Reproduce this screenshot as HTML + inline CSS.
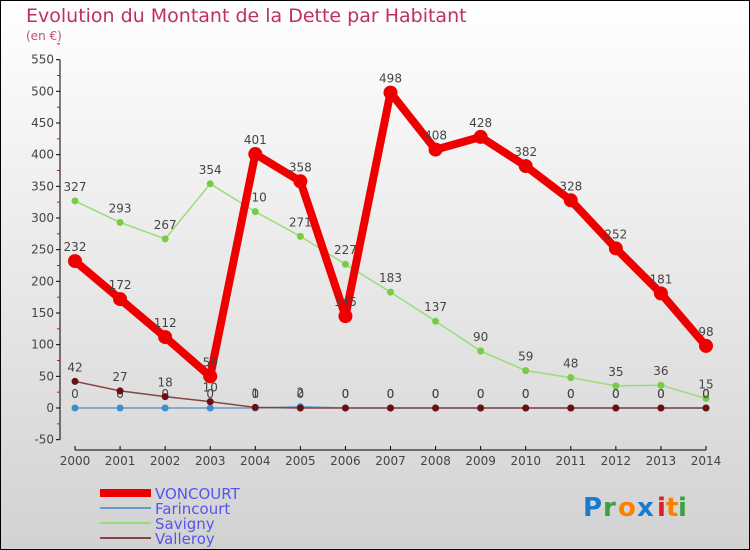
<!DOCTYPE html>
<html><head><meta charset="utf-8"><style>
body{margin:0}
#c{width:750px;height:550px;position:relative;overflow:hidden;font-family:"DejaVu Sans","Liberation Sans",sans-serif;}
svg text{font-family:"DejaVu Sans","Liberation Sans",sans-serif;}
</style></head><body>
<div id="c">
<svg id="s" width="750" height="550" xmlns="http://www.w3.org/2000/svg">
<defs><linearGradient id="bg" x1="0" y1="0" x2="0" y2="1"><stop offset="0" stop-color="#ffffff"/><stop offset="1" stop-color="#d2d2d2"/></linearGradient></defs>
<rect x="0.5" y="0.5" width="749" height="549" fill="url(#bg)" stroke="#000"/>
<text x="26" y="22" font-size="19" fill="#c0305a">Evolution du Montant de la Dette par Habitant</text>
<text x="26" y="40" font-size="12" fill="#c0507a">(en €)</text>
<g id="axes"></g><g id="series"></g><g id="legend"></g>
<g font-size="26" font-weight="bold">
<text x="583" y="516" fill="#1a7ad0">P</text><text x="603" y="516" fill="#3aa040">r</text><text x="618" y="516" fill="#ff8000">o</text><text x="637" y="516" fill="#1a7ad0">x</text><text x="657" y="516" fill="#e02020">i</text><text x="666" y="516" fill="#ff8000">t</text><text x="678" y="516" fill="#3aa040">i</text>
</g>
</svg>
</div>
<script>
const years=[2000,2001,2002,2003,2004,2005,2006,2007,2008,2009,2010,2011,2012,2013,2014];
const voncourt=[232,172,112,50,401,358,145,498,408,428,382,328,252,181,98];
const farincourt=[0,0,0,0,0,2,0,0,0,0,0,0,0,0,0];
const savigny=[327,293,267,354,310,271,227,183,137,90,59,48,35,36,15];
const valleroy=[42,27,18,10,1,0,0,0,0,0,0,0,0,0,0];
const yTicks=[-50,0,50,100,150,200,250,300,350,400,450,500,550];
const NS="http://www.w3.org/2000/svg";
const X=i=>75+i*(706-75)/14;
const Y=v=>408-v*380/600;
function mk(tag,attrs,parent){const e=document.createElementNS(NS,tag);for(const k in attrs)e.setAttribute(k,attrs[k]);parent.appendChild(e);return e;}
const ax=document.getElementById('axes');
let yl=mk('line',{x1:60,y1:Y(550),x2:60,y2:Y(-50),stroke:'#000'},ax);


yTicks.forEach(t=>{
 mk('line',{x1:56,x2:60,y1:Y(t),y2:Y(t),stroke:'#000'},ax);
 mk('line',{x1:57,x2:60,y1:Y(t+25),y2:Y(t+25),stroke:'#f00'},ax);
 const tx=mk('text',{x:54,y:Y(t)+4,'font-size':12,fill:'#444','text-anchor':'end'},ax);
 tx.textContent=t;
 
 
});
let xl=mk('line',{x1:75,y1:450,x2:706,y2:450,stroke:'#000'},ax);


years.forEach((y,i)=>{
 mk('line',{x1:X(i),x2:X(i),y1:446,y2:450,stroke:'#000'},ax);
 const tx=mk('text',{x:X(i),y:465,'font-size':12,fill:'#444','text-anchor':'middle'},ax);
 tx.textContent=y;
 
 
});
const sg=document.getElementById('series');
function series(name,vals,color,w,r,dot){
 const g=mk('g',{},sg);
 
 
 mk('polyline',{points:vals.map((v,i)=>X(i)+','+Y(v)).join(' '),fill:'none',stroke:color,'stroke-width':w,'stroke-linejoin':'round'},g);
 vals.forEach((v,i)=>{
  const c=mk('circle',{cx:X(i),cy:Y(v),r:r,fill:dot},g);
  
  
  const t=mk('text',{x:X(i),y:Y(v)-10,'font-size':12,fill:'#444','text-anchor':'middle'},g);
  t.textContent=v;
  
  
 });
}
series('savigny',savigny,'#99dd77',1.5,3.5,'#77cc44');
series('farincourt',farincourt,'#6699cc',1.5,3.5,'#3a8fcc');
series('valleroy',valleroy,'#884444',1.5,3.5,'#6a1010');
series('voncourt',voncourt,'#ee0000',8,7,'#ee0000');
const lg=document.getElementById('legend');
const items=[['VONCOURT','#ee0000',8],['Farincourt','#6699cc',2],['Savigny','#99dd77',2],['Valleroy','#884444',2]];
items.forEach((it,i)=>{
 const y=493+i*15;
 const g=mk('g',{},lg);
 
 
 mk('line',{x1:100,x2:151,y1:y,y2:y,stroke:it[1],'stroke-width':it[2]},g);
 const t=mk('text',{x:155,y:y+6,'font-size':15,fill:'#5555ee'},g);
 t.textContent=it[0];
});
</script>
</body></html>
